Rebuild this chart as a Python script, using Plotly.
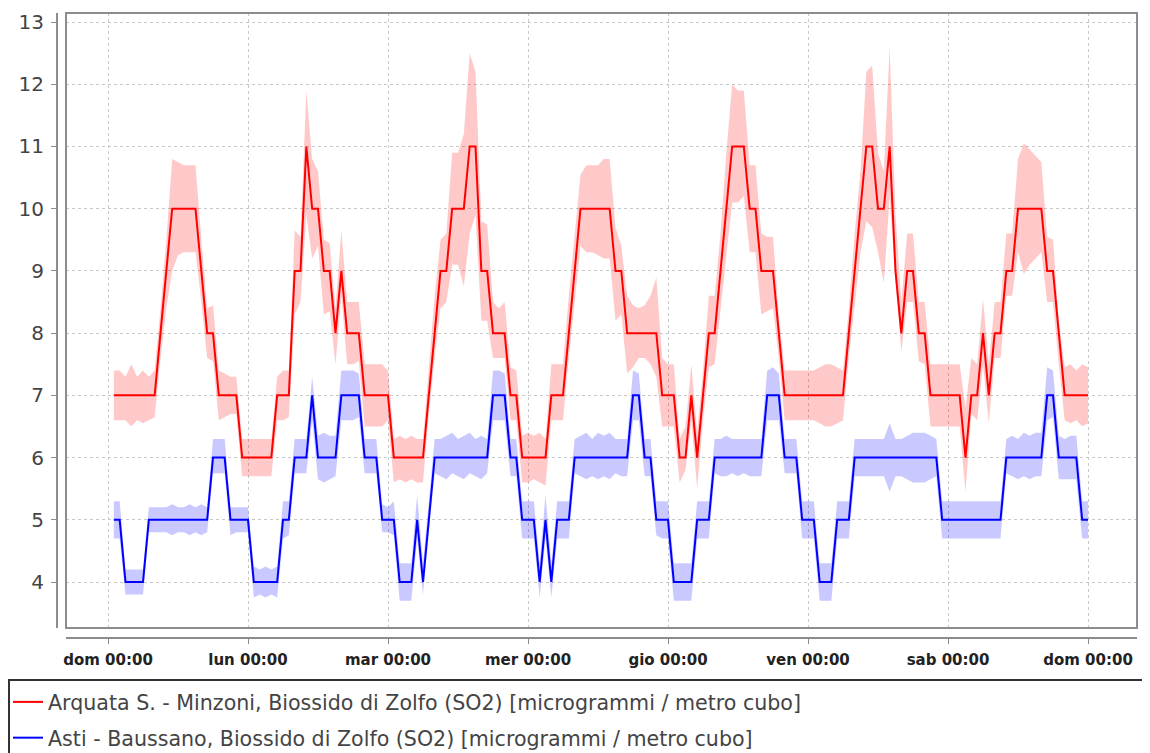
import plotly.graph_objects as go

# ---------------- data ----------------
day_labels = ["dom 00:00", "lun 00:00", "mar 00:00", "mer 00:00",
              "gio 00:00", "ven 00:00", "sab 00:00", "dom 00:00"]
day_hours = [0, 24, 48, 72, 96, 120, 144, 168]
hours = list(range(1, 169))

series_names = [
    "Arquata S. - Minzoni, Biossido di Zolfo (SO2) [microgrammi / metro cubo]",
    "Asti - Baussano, Biossido di Zolfo (SO2) [microgrammi / metro cubo]",
]

arquata = [
    7, 7, 7, 7, 7, 7, 7, 7,
    8, 9, 10, 10, 10, 10, 10, 9,
    8, 8, 7, 7, 7, 7, 6, 6,
    6, 6, 6, 6, 7, 7, 7, 9,
    9, 11, 10, 10, 9, 9, 8, 9,
    8, 8, 8, 7, 7, 7, 7, 7,
    6, 6, 6, 6, 6, 6, 7, 8,
    9, 9, 10, 10, 10, 11, 11, 9,
    9, 8, 8, 8, 7, 7, 6, 6,
    6, 6, 6, 7, 7, 7, 8, 9,
    10, 10, 10, 10, 10, 10, 9, 9,
    8, 8, 8, 8, 8, 8, 7, 7,
    7, 6, 6, 7, 6, 7, 8, 8,
    9, 10, 11, 11, 11, 10, 10, 9,
    9, 9, 8, 7, 7, 7, 7, 7,
    7, 7, 7, 7, 7, 7, 8, 9,
    10, 11, 11, 10, 10, 11, 9, 8,
    9, 9, 8, 8, 7, 7, 7, 7,
    7, 7, 6, 7, 7, 8, 7, 8,
    8, 9, 9, 10, 10, 10, 10, 10,
    9, 9, 8, 7, 7, 7, 7, 7,
]
arquata_hi = [
    7.4, 7.4, 7.3, 7.5, 7.3, 7.4, 7.3, 7.4,
    8.4, 9.5, 10.8, 10.75, 10.7, 10.7, 10.7, 9.5,
    8.4, 8.45, 7.4, 7.35, 7.3, 7.3, 6.3, 6.3,
    6.3, 6.3, 6.3, 6.3, 7.3, 7.4, 7.4, 9.65,
    9.55, 11.9, 10.8, 10.6, 9.5, 9.45, 8.4, 9.65,
    8.5, 8.5, 8.5, 7.5, 7.5, 7.5, 7.5, 7.4,
    6.3, 6.35, 6.3, 6.35, 6.3, 6.3, 7.4, 8.6,
    9.5, 9.6, 10.9, 10.9, 11.2, 12.5, 12.2, 9.8,
    9.75, 8.5, 8.4, 8.5, 7.45, 7.4, 6.35, 6.4,
    6.35, 6.4, 6.3, 7.5, 7.5, 7.5, 8.6, 9.6,
    10.55, 10.7, 10.7, 10.7, 10.8, 10.8, 9.7, 9.4,
    8.6, 8.45, 8.4, 8.45, 8.6, 8.9, 7.6, 7.5,
    7.5, 6.3, 6.5, 7.5, 6.4, 7.4, 8.6, 8.6,
    9.6, 10.9, 12.0, 11.9, 11.9, 10.7, 10.7, 9.6,
    9.55, 9.55, 8.3, 7.4, 7.4, 7.4, 7.4, 7.4,
    7.4, 7.45, 7.5, 7.5, 7.45, 7.4, 8.4, 9.6,
    10.6, 12.2, 12.3, 10.9, 10.6, 12.6, 9.9, 8.5,
    9.6, 9.6, 8.5, 8.5, 7.5, 7.5, 7.5, 7.5,
    7.5, 7.5, 6.8, 7.6, 7.5, 8.55, 7.5, 8.5,
    8.5, 9.6, 9.6, 10.8, 11.05, 10.95, 10.85, 10.75,
    9.55, 9.5, 8.2, 7.45, 7.5, 7.4, 7.5, 7.45,
]
arquata_lo = [
    6.6, 6.6, 6.6, 6.5, 6.6, 6.55, 6.6, 6.65,
    7.6, 8.4, 9.0, 9.25, 9.3, 9.3, 9.3, 8.5,
    7.6, 7.55, 6.6, 6.65, 6.7, 6.7, 5.7, 5.7,
    5.7, 5.7, 5.7, 5.7, 6.6, 6.6, 6.65, 8.3,
    8.5, 9.9, 9.2, 9.4, 8.3, 8.35, 7.5, 8.6,
    7.5, 7.5, 7.55, 6.5, 6.5, 6.5, 6.5, 6.6,
    5.6, 5.65, 5.6, 5.65, 5.6, 5.6, 6.7, 7.6,
    8.4, 8.5, 9.1, 9.1, 8.75, 9.6, 9.9, 8.2,
    8.2, 7.6, 7.6, 7.6, 6.6, 6.6, 5.6, 5.6,
    5.65, 5.6, 5.55, 6.6, 6.6, 6.6, 7.6, 8.5,
    9.4, 9.3, 9.3, 9.25, 9.2, 9.2, 8.2, 8.3,
    7.35, 7.45, 7.6, 7.6, 7.5, 7.3, 6.5, 6.5,
    6.5, 5.6, 5.8, 6.6, 5.5, 6.6, 7.45, 7.5,
    8.4, 9.3, 10.1, 10.1, 10.2, 9.3, 9.3, 8.3,
    8.35, 8.4, 7.6, 6.6, 6.6, 6.6, 6.6, 6.6,
    6.6, 6.55, 6.5, 6.5, 6.55, 6.6, 7.6, 8.5,
    9.3, 9.8, 9.7, 9.3, 8.8, 10.2, 8.8, 7.7,
    8.5, 8.5, 7.55, 7.5, 6.5, 6.5, 6.5, 6.5,
    6.5, 6.5, 5.45, 6.7, 6.6, 7.5, 6.55, 7.6,
    7.6, 8.6, 8.6, 9.3, 8.95, 9.1, 9.2, 9.3,
    8.5, 8.5, 7.5, 6.6, 6.55, 6.6, 6.5, 6.55,
]

asti = [
    5, 5, 4, 4, 4, 4, 5, 5,
    5, 5, 5, 5, 5, 5, 5, 5,
    5, 6, 6, 6, 5, 5, 5, 5,
    4, 4, 4, 4, 4, 5, 5, 6,
    6, 6, 7, 6, 6, 6, 6, 7,
    7, 7, 7, 6, 6, 6, 5, 5,
    5, 4, 4, 4, 5, 4, 5, 6,
    6, 6, 6, 6, 6, 6, 6, 6,
    6, 7, 7, 7, 6, 6, 5, 5,
    5, 4, 5, 4, 5, 5, 5, 6,
    6, 6, 6, 6, 6, 6, 6, 6,
    6, 7, 7, 6, 6, 5, 5, 5,
    4, 4, 4, 4, 5, 5, 5, 6,
    6, 6, 6, 6, 6, 6, 6, 6,
    7, 7, 7, 6, 6, 6, 5, 5,
    5, 4, 4, 4, 5, 5, 5, 6,
    6, 6, 6, 6, 6, 6, 6, 6,
    6, 6, 6, 6, 6, 6, 5, 5,
    5, 5, 5, 5, 5, 5, 5, 5,
    5, 6, 6, 6, 6, 6, 6, 6,
    7, 7, 6, 6, 6, 6, 5, 5,
]
asti_hi = [
    5.3, 5.3, 4.2, 4.2, 4.2, 4.2, 5.2, 5.2,
    5.2, 5.2, 5.25, 5.2, 5.2, 5.25, 5.2, 5.25,
    5.2, 6.3, 6.3, 6.3, 5.2, 5.2, 5.2, 5.2,
    4.25, 4.2, 4.25, 4.2, 4.25, 5.3, 5.3, 6.3,
    6.3, 6.3, 7.3, 6.35, 6.4, 6.35, 6.35, 7.4,
    7.4, 7.4, 7.35, 6.3, 6.3, 6.3, 5.25, 5.2,
    5.3, 4.3, 4.3, 4.3, 5.4, 4.3, 5.3, 6.3,
    6.3, 6.35, 6.4, 6.3, 6.35, 6.4, 6.3, 6.35,
    6.3, 7.4, 7.4, 7.35, 6.3, 6.3, 5.3, 5.3,
    5.3, 4.3, 5.4, 4.3, 5.3, 5.3, 5.3, 6.3,
    6.35, 6.4, 6.3, 6.4, 6.35, 6.4, 6.3, 6.3,
    6.3, 7.4, 7.35, 6.3, 6.3, 5.3, 5.3, 5.3,
    4.3, 4.3, 4.3, 4.3, 5.3, 5.3, 5.3, 6.3,
    6.3, 6.35, 6.3, 6.3, 6.3, 6.3, 6.3, 6.3,
    7.4, 7.45, 7.35, 6.3, 6.3, 6.3, 5.3, 5.3,
    5.3, 4.3, 4.3, 4.3, 5.3, 5.3, 5.3, 6.3,
    6.3, 6.3, 6.3, 6.3, 6.3, 6.55, 6.3, 6.3,
    6.35, 6.4, 6.4, 6.4, 6.35, 6.3, 5.3, 5.3,
    5.3, 5.3, 5.3, 5.3, 5.3, 5.3, 5.3, 5.3,
    5.3, 6.3, 6.35, 6.3, 6.4, 6.35, 6.4, 6.4,
    7.45, 7.4, 6.35, 6.3, 6.35, 6.35, 5.3, 5.3,
]
asti_lo = [
    4.7, 4.7, 3.8, 3.8, 3.8, 3.8, 4.8, 4.8,
    4.8, 4.8, 4.75, 4.8, 4.8, 4.75, 4.8, 4.75,
    4.8, 5.75, 5.75, 5.75, 4.75, 4.8, 4.8, 4.8,
    3.75, 3.8, 3.75, 3.8, 3.75, 4.7, 4.75, 5.75,
    5.75, 5.75, 6.6, 5.65, 5.6, 5.65, 5.7, 6.6,
    6.6, 6.6, 6.65, 5.75, 5.75, 5.75, 4.8, 4.8,
    4.75, 3.7, 3.7, 3.7, 4.7, 3.8, 4.8, 5.75,
    5.7, 5.65, 5.75, 5.7, 5.65, 5.75, 5.7, 5.65,
    5.75, 6.6, 6.6, 6.6, 5.7, 5.7, 4.7, 4.7,
    4.7, 3.75, 4.7, 3.75, 4.7, 4.7, 4.7, 5.75,
    5.7, 5.65, 5.7, 5.65, 5.7, 5.65, 5.75, 5.7,
    5.7, 6.6, 6.6, 5.7, 5.7, 4.75, 4.7, 4.7,
    3.7, 3.7, 3.7, 3.7, 4.7, 4.7, 4.7, 5.75,
    5.7, 5.7, 5.75, 5.7, 5.75, 5.7, 5.7, 5.7,
    6.6, 6.6, 6.6, 5.75, 5.75, 5.75, 4.7, 4.7,
    4.7, 3.7, 3.7, 3.7, 4.7, 4.7, 4.7, 5.7,
    5.7, 5.7, 5.7, 5.7, 5.7, 5.45, 5.7, 5.7,
    5.65, 5.6, 5.6, 5.6, 5.65, 5.7, 4.7, 4.7,
    4.7, 4.7, 4.7, 4.7, 4.7, 4.7, 4.7, 4.7,
    4.7, 5.75, 5.7, 5.65, 5.7, 5.65, 5.7, 5.7,
    6.6, 6.65, 5.65, 5.65, 5.65, 5.65, 4.7, 4.7,
]

for name, arr in [("arquata", arquata), ("arquata_hi", arquata_hi), ("arquata_lo", arquata_lo),
                  ("asti", asti), ("asti_hi", asti_hi), ("asti_lo", asti_lo)]:
    assert len(arr) == len(hours), (name, len(arr))

# ---------------- figure ----------------
# the page body adds an 8px margin, so the figure is 8px smaller and all
# positions below are given relative to the figure (page px - 8)
OFF = 8
W, H = 1150 - OFF, 753 - OFF
ML, MR, MT, MB = 57 - OFF, 13, 13 - OFF, 115
PW = W - ML - MR
PH = H - MT - MB

RED = "#ff0000"
BLUE = "#0000ff"
RED_BAND = "rgba(255,0,0,0.21)"
BLUE_BAND = "rgba(0,0,255,0.21)"
AXIS_COL = "#8c8c8c"
GRID_COL = "#c8c8c8"

fig = go.Figure()

def band(hi, lo, color):
    fig.add_trace(go.Scatter(x=hours, y=hi, mode="lines", line=dict(width=0),
                             hoverinfo="skip", showlegend=False))
    fig.add_trace(go.Scatter(x=hours, y=lo, mode="lines", line=dict(width=0),
                             fill="tonexty", fillcolor=color,
                             hoverinfo="skip", showlegend=False))

band(arquata_hi, arquata_lo, RED_BAND)
band(asti_hi, asti_lo, BLUE_BAND)

fig.add_trace(go.Scatter(x=hours, y=arquata, mode="lines", name=series_names[0],
                         line=dict(color=RED, width=2), legendgroup="a"))
fig.add_trace(go.Scatter(x=hours, y=asti, mode="lines", name=series_names[1],
                         line=dict(color=BLUE, width=2), legendgroup="b"))

x0_px = 66 - 57   # plot box starts 9px right of the y axis line
y0_px = 638 - 628  # plot box ends 10px above the x axis line

fig.update_layout(
    width=W, height=H,
    margin=dict(l=ML, r=MR, t=MT, b=MB, pad=0, autoexpand=False),
    paper_bgcolor="white", plot_bgcolor="white",
    font=dict(family="DejaVu Sans", color="#444444"),
    xaxis=dict(
        domain=[x0_px / PW, 1], anchor="free", position=0,
        range=[-7.2, 176.4],
        tickmode="array", tickvals=day_hours, ticktext=day_labels, tickangle=0,
        showline=True, linecolor=AXIS_COL, linewidth=2,
        ticks="outside", ticklen=5, tickwidth=1, tickcolor=AXIS_COL,
        ticklabelstandoff=3,
        tickfont=dict(family="DejaVu Sans", size=15, color="#222222", weight="bold"),
        showgrid=True, gridcolor=GRID_COL, gridwidth=1, griddash="3px,3px",
        zeroline=False, automargin=False,
    ),
    yaxis=dict(
        domain=[y0_px / PH, 1], anchor="free", position=0,
        range=[3.261, 13.145],
        tickmode="linear", tick0=4, dtick=1,
        showline=True, linecolor=AXIS_COL, linewidth=2,
        ticks="outside", ticklen=5, tickwidth=1, tickcolor=AXIS_COL,
        ticklabelstandoff=3,
        tickfont=dict(family="DejaVu Sans", size=20, color="#444444"),
        showgrid=True, gridcolor=GRID_COL, gridwidth=1, griddash="3px,3px",
        zeroline=False, automargin=False,
    ),
    legend=dict(
        xref="container", yref="container",
        x=0, y=1 - 674 / H, xanchor="left", yanchor="top",
        font=dict(family="DejaVu Sans", size=20.6, color="#444444"),
        bgcolor="rgba(0,0,0,0)", borderwidth=0,
        tracegroupgap=6, itemwidth=30,
    ),
    shapes=[
        # plot box
        dict(type="rect", xref="x domain", yref="y domain", x0=0, x1=1, y0=0, y1=1,
             line=dict(color=AXIS_COL, width=2), fillcolor="rgba(0,0,0,0)", layer="above"),
        # legend frame
        dict(type="rect", xref="paper", yref="paper",
             x0=(1 - ML) / PW, x1=(W + 20 - ML) / PW,
             y0=(MT + PH - (680 - OFF)) / PH, y1=(MT + PH - 800) / PH,
             line=dict(color="#333333", width=2), fillcolor="rgba(0,0,0,0)"),
    ],
    showlegend=True,
)

fig.write_html("out.html")
